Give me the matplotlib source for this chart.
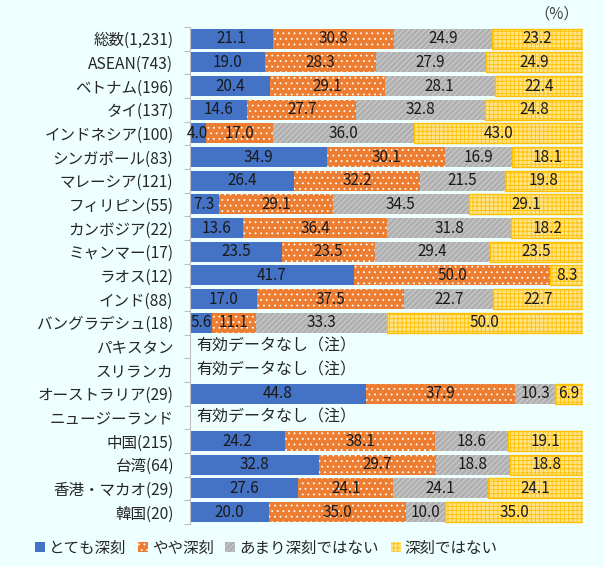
import matplotlib
matplotlib.use("Agg")
import matplotlib.pyplot as plt
from matplotlib.patches import Patch
import numpy as np

plt.rcParams['font.family'] = ['Noto Sans CJK JP', 'DejaVu Sans']
plt.rcParams['hatch.linewidth'] = 0.6

categories = ["総数(1,231)", "ASEAN(743)", "ベトナム(196)", "タイ(137)", "インドネシア(100)",
              "シンガポール(83)", "マレーシア(121)", "フィリピン(55)", "カンボジア(22)",
              "ミャンマー(17)", "ラオス(12)", "インド(88)", "バングラデシュ(18)",
              "パキスタン", "スリランカ", "オーストラリア(29)", "ニュージーランド",
              "中国(215)", "台湾(64)", "香港・マカオ(29)", "韓国(20)"]

very_serious = [21.1, 19.0, 20.4, 14.6, 4.0, 34.9, 26.4, 7.3, 13.6, 23.5, 41.7, 17.0, 5.6,
                None, None, 44.8, None, 24.2, 32.8, 27.6, 20.0]
somewhat_serious = [30.8, 28.3, 29.1, 27.7, 17.0, 30.1, 32.2, 29.1, 36.4, 23.5, 50.0, 37.5, 11.1,
                    None, None, 37.9, None, 38.1, 29.7, 24.1, 35.0]
not_very_serious = [24.9, 27.9, 28.1, 32.8, 36.0, 16.9, 21.5, 34.5, 31.8, 29.4, 0.0, 22.7, 33.3,
                    None, None, 10.3, None, 18.6, 18.8, 24.1, 10.0]
not_serious = [23.2, 24.9, 22.4, 24.8, 43.0, 18.1, 19.8, 29.1, 18.2, 23.5, 8.3, 22.7, 50.0,
               None, None, 6.9, None, 19.1, 18.8, 24.1, 35.0]

series_names = ["とても深刻", "やや深刻", "あまり深刻ではない", "深刻ではない"]
no_data_text = "有効データなし（注）"

series = [very_serious, somewhat_serious, not_very_serious, not_serious]
styles = [
    dict(face="#4472C4", hatch=None, hcol="#4472C4"),
    dict(face="#ED7D31", hatch="...", hcol="#FFFFFF"),
    dict(face="#B0B0B0", hatch="//////", hcol="#D4D4D4"),
    dict(face="#FFE38A", hatch="++++", hcol="#FFC000"),
]

bg = "#EEFFFF"
fig = plt.figure(figsize=(6.04, 5.67), dpi=100, facecolor=bg)
ax = fig.add_axes([190/604, 1-523.9/567, 393/604, 497/567])
ax.set_facecolor(bg)

n = len(categories)
y = np.arange(n)
left = np.zeros(n)
for vals, st in zip(series, styles):
    v = np.array([0.0 if x is None else x for x in vals])
    mask = v > 0
    ax.barh(y[mask], v[mask], left=left[mask], height=0.84, color=st["face"],
            edgecolor=st["hcol"], linewidth=0, hatch=st["hatch"], zorder=2)
    if st["hatch"] == "++++":
        ax.barh(y[mask], v[mask], left=left[mask], height=0.84, fill=False,
                edgecolor="#FFC000", linewidth=1.0, zorder=3)
    for i in range(n):
        if vals[i] is not None and vals[i] > 0:
            ax.text(left[i] + v[i]/2, y[i], f"{vals[i]:.1f}", ha="center", va="center",
                    fontsize=11, color="#1a1a1a", zorder=4)
    left = left + v

for i in range(n):
    if very_serious[i] is None:
        ax.text(1.5, y[i], no_data_text, ha="left", va="center", fontsize=11.5,
                color="#262626", zorder=4)

ax.set_xlim(0, 100)
ax.set_ylim(n - 0.5, -0.5)
ax.set_xticks([])
ax.set_yticks(np.arange(-0.5, n, 1.0))
ax.set_yticklabels([])
ax.set_yticks(y, minor=True)
ax.set_yticklabels(categories, minor=True, fontsize=11.2, color="#262626")
ax.tick_params(axis='y', which='major', length=4, color="#BFBFBF", width=0.8)
ax.tick_params(axis='y', which='minor', length=0, pad=12)
for s in ["top", "right", "bottom"]:
    ax.spines[s].set_visible(False)
ax.spines["left"].set_color("#BFBFBF")
ax.spines["left"].set_linewidth(0.8)

fig.text(557/604, 1-14/567, "（%）", ha="center", va="center", fontsize=11, color="#404040")

handles = [Patch(facecolor=st["face"], edgecolor=st["hcol"], hatch=st["hatch"], linewidth=0)
           for st in styles]
fig.legend(handles, series_names, loc="center", bbox_to_anchor=(266/604, 1-548/567),
           ncol=4, frameon=False, fontsize=11.2, handlelength=0.65, handleheight=0.65,
           handletextpad=0.25, columnspacing=0.75, labelcolor="#262626")

fig.savefig("out.png", dpi=100, facecolor=bg)
